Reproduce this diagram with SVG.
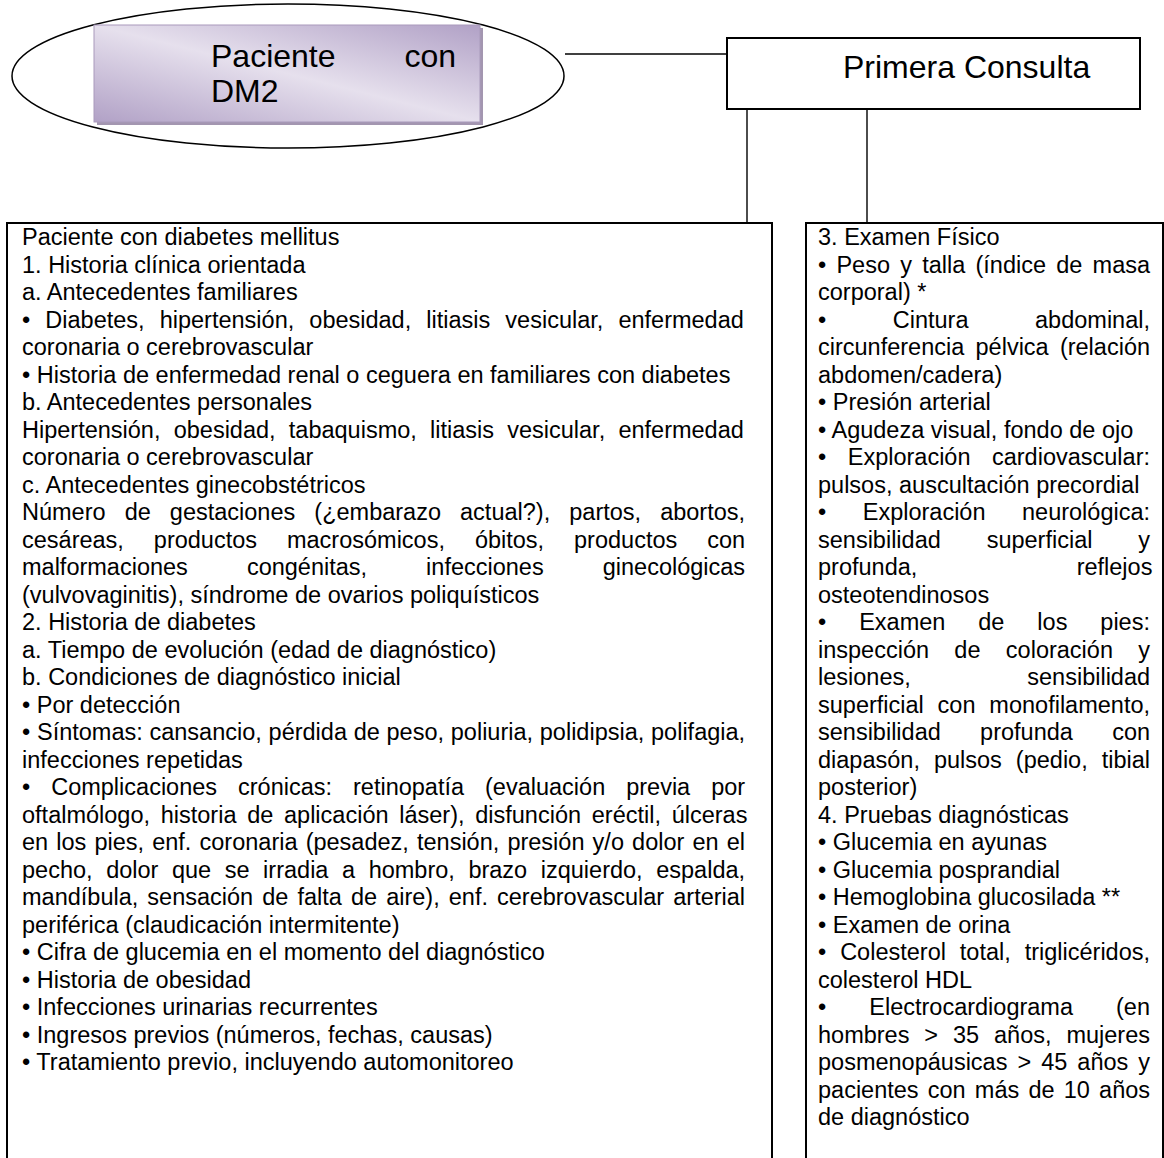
<svg xmlns="http://www.w3.org/2000/svg" width="1164" height="1158" viewBox="0 0 1164 1158">
<defs>
<linearGradient id="lav" x1="0" y1="1" x2="1" y2="0">
<stop offset="0" stop-color="#b1a1c6"/>
<stop offset="0.5" stop-color="#e6e0ed"/>
<stop offset="1" stop-color="#b1a1c6"/>
</linearGradient>
</defs>
<style>
.t{font-family:"Liberation Sans",Arial,sans-serif;font-size:23.5px;fill:#000}
.h{font-family:"Liberation Sans",Arial,sans-serif;font-size:32px;fill:#000}
.box{fill:#fff;stroke:#000;stroke-width:2}
.ln{stroke:#000;stroke-width:1.4;fill:none}
</style>
<rect width="1164" height="1158" fill="#fff"/>
<g id="connectors">
<line class="ln" x1="565" y1="54" x2="727" y2="54"/>
<line class="ln" x1="747" y1="109" x2="747" y2="223"/>
<line class="ln" x1="867" y1="109" x2="867" y2="223"/>
</g>
<g id="node-paciente">
<ellipse cx="288" cy="76" rx="276" ry="72" fill="none" stroke="#000" stroke-width="1.5"/>
<rect x="97" y="28" width="386" height="97" fill="#a396b0"/>
<rect x="94" y="25" width="386" height="97" fill="url(#lav)" stroke="#a99abb" stroke-width="1"/>
<text class="h" x="211" y="67">Paciente</text>
<text class="h" x="456" y="67" text-anchor="end">con</text>
<text class="h" x="211" y="102">DM2</text>
</g>
<g id="node-primera">
<rect class="box" x="727" y="38" width="413" height="71"/>
<text class="h" x="843" y="78">Primera Consulta</text>
</g>
<g id="node-historia">
<rect class="box" x="7" y="223" width="765" height="960"/>
<text class="t" x="22" y="245">Paciente con diabetes mellitus</text>
<text class="t" x="22" y="272.5">1. Historia clínica orientada</text>
<text class="t" x="22" y="300">a. Antecedentes familiares</text>
<text class="t" x="22" y="327.5" style="word-spacing:8.55px">• Diabetes, hipertensión, obesidad, litiasis vesicular, enfermedad</text>
<text class="t" x="22" y="355">coronaria o cerebrovascular</text>
<text class="t" x="22" y="382.5">• Historia de enfermedad renal o ceguera en familiares con diabetes</text>
<text class="t" x="22" y="410">b. Antecedentes personales</text>
<text class="t" x="22" y="437.5" style="word-spacing:6.68px">Hipertensión, obesidad, tabaquismo, litiasis vesicular, enfermedad</text>
<text class="t" x="22" y="465">coronaria o cerebrovascular</text>
<text class="t" x="22" y="492.5">c. Antecedentes ginecobstétricos</text>
<text class="t" x="22" y="520" style="word-spacing:12.53px">Número de gestaciones (¿embarazo actual?), partos, abortos,</text>
<text class="t" x="22" y="547.5" style="word-spacing:23.4px">cesáreas, productos macrosómicos, óbitos, productos con</text>
<text class="t" x="22" y="575" style="word-spacing:52.5px">malformaciones congénitas, infecciones ginecológicas</text>
<text class="t" x="22" y="602.5">(vulvovaginitis), síndrome de ovarios poliquísticos</text>
<text class="t" x="22" y="630">2. Historia de diabetes</text>
<text class="t" x="22" y="657.5">a. Tiempo de evolución (edad de diagnóstico)</text>
<text class="t" x="22" y="685">b. Condiciones de diagnóstico inicial</text>
<text class="t" x="22" y="712.5">• Por detección</text>
<text class="t" x="22" y="740" style="word-spacing:0.2px">• Síntomas: cansancio, pérdida de peso, poliuria, polidipsia, polifagia,</text>
<text class="t" x="22" y="767.5">infecciones repetidas</text>
<text class="t" x="22" y="795" style="word-spacing:14.43px">• Complicaciones crónicas: retinopatía (evaluación previa por</text>
<text class="t" x="22" y="822.5" style="word-spacing:4.17px">oftalmólogo, historia de aplicación láser), disfunción eréctil, úlceras</text>
<text class="t" x="22" y="850" style="word-spacing:1.6px">en los pies, enf. coronaria (pesadez, tensión, presión y/o dolor en el</text>
<text class="t" x="22" y="877.5" style="word-spacing:7.04px">pecho, dolor que se irradia a hombro, brazo izquierdo, espalda,</text>
<text class="t" x="22" y="905" style="word-spacing:2.54px">mandíbula, sensación de falta de aire), enf. cerebrovascular arterial</text>
<text class="t" x="22" y="932.5">periférica (claudicación intermitente)</text>
<text class="t" x="22" y="960">• Cifra de glucemia en el momento del diagnóstico</text>
<text class="t" x="22" y="987.5">• Historia de obesidad</text>
<text class="t" x="22" y="1015">• Infecciones urinarias recurrentes</text>
<text class="t" x="22" y="1042.5">• Ingresos previos (números, fechas, causas)</text>
<text class="t" x="22" y="1070">• Tratamiento previo, incluyendo automonitoreo</text>
</g>
<g id="node-examen">
<rect class="box" x="806" y="223" width="357" height="960"/>
<text class="t" x="818" y="245">3. Examen Físico</text>
<text class="t" x="818" y="272.5" style="word-spacing:3.68px">• Peso y talla (índice de masa</text>
<text class="t" x="818" y="300">corporal) *</text>
<text class="t" x="818" y="327.5" style="word-spacing:60px">• Cintura abdominal,</text>
<text class="t" x="818" y="355" style="word-spacing:4.7px">circunferencia pélvica (relación</text>
<text class="t" x="818" y="382.5">abdomen/cadera)</text>
<text class="t" x="818" y="410">• Presión arterial</text>
<text class="t" x="818" y="437.5">• Agudeza visual, fondo de ojo</text>
<text class="t" x="818" y="465" style="word-spacing:14.95px">• Exploración cardiovascular:</text>
<text class="t" x="818" y="492.5">pulsos, auscultación precordial</text>
<text class="t" x="818" y="520" style="word-spacing:29.96px">• Exploración neurológica:</text>
<text class="t" x="818" y="547.5" style="word-spacing:39.3px">sensibilidad superficial y</text>
<text class="t" x="818" y="575" style="word-spacing:152.8px">profunda, reflejos</text>
<text class="t" x="818" y="602.5">osteotendinosos</text>
<text class="t" x="818" y="630" style="word-spacing:26.4px">• Examen de los pies:</text>
<text class="t" x="818" y="657.5" style="word-spacing:18.8px">inspección de coloración y</text>
<text class="t" x="818" y="685" style="word-spacing:110px">lesiones, sensibilidad</text>
<text class="t" x="818" y="712.5" style="word-spacing:7.3px">superficial con monofilamento,</text>
<text class="t" x="818" y="740" style="word-spacing:32.76px">sensibilidad profunda con</text>
<text class="t" x="818" y="767.5" style="word-spacing:7.47px">diapasón, pulsos (pedio, tibial</text>
<text class="t" x="818" y="795">posterior)</text>
<text class="t" x="818" y="822.5">4. Pruebas diagnósticas</text>
<text class="t" x="818" y="850">• Glucemia en ayunas</text>
<text class="t" x="818" y="877.5">• Glucemia posprandial</text>
<text class="t" x="818" y="905">• Hemoglobina glucosilada **</text>
<text class="t" x="818" y="932.5">• Examen de orina</text>
<text class="t" x="818" y="960" style="word-spacing:7.37px">• Colesterol total, triglicéridos,</text>
<text class="t" x="818" y="987.5">colesterol HDL</text>
<text class="t" x="818" y="1015" style="word-spacing:36.5px">• Electrocardiograma (en</text>
<text class="t" x="818" y="1042.5" style="word-spacing:8.38px">hombres &gt; 35 años, mujeres</text>
<text class="t" x="818" y="1070" style="word-spacing:3.48px">posmenopáusicas &gt; 45 años y</text>
<text class="t" x="818" y="1097.5" style="word-spacing:2.66px">pacientes con más de 10 años</text>
<text class="t" x="818" y="1125">de diagnóstico</text>
</g>
</svg>
